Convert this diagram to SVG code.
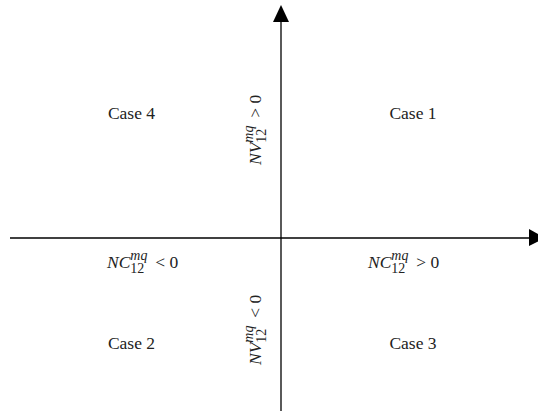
<svg xmlns="http://www.w3.org/2000/svg" width="538" height="417" viewBox="0 0 538 417">
<style>
text{font-family:"Liberation Serif","Times New Roman",serif;font-size:17.5px;fill:#222}
.lab{font-size:17.5px}
.i{font-style:italic}
.sup{font-size:15px;font-style:italic}
.sub{font-size:14px}
.ax{stroke:#000;stroke-width:1.3;fill:none}
</style>
<rect width="538" height="417" fill="#fff"/>
<g id="connectors">
<line class="ax" x1="281" y1="411" x2="281" y2="18"/>
<polygon points="281,5 273,22 289,22" fill="#000"/>
<line class="ax" x1="10" y1="238" x2="530" y2="238"/>
<polygon points="545,238 529,229 529,246" fill="#000"/>
</g>
<g id="case4"><text x="131.5" y="119" text-anchor="middle">Case 4</text></g>
<g id="case1"><text x="413" y="119" text-anchor="middle">Case 1</text></g>
<g id="case2"><text x="131.5" y="349" text-anchor="middle">Case 2</text></g>
<g id="case3"><text x="413" y="349" text-anchor="middle">Case 3</text></g>
<g id="nc-neg"><text class="lab" x="107" y="268"><tspan class="i">NC</tspan><tspan class="sup" dy="-8" textLength="17" lengthAdjust="spacingAndGlyphs">mq</tspan><tspan class="sub" dx="-17" dy="13">12</tspan><tspan dx="11" dy="-5">&lt; 0</tspan></text></g>
<g id="nc-pos"><text class="lab" x="368" y="268"><tspan class="i">NC</tspan><tspan class="sup" dy="-8" textLength="17" lengthAdjust="spacingAndGlyphs">mq</tspan><tspan class="sub" dx="-17" dy="13">12</tspan><tspan dx="11" dy="-5">&gt; 0</tspan></text></g>
<g id="nv-pos"><text class="lab" transform="translate(261,165) rotate(-90)"><tspan class="i">NV</tspan><tspan class="sup" dy="-8" textLength="17" lengthAdjust="spacingAndGlyphs">mq</tspan><tspan class="sub" dx="-17" dy="13">12</tspan><tspan dx="11" dy="-5">&gt; 0</tspan></text></g>
<g id="nv-neg"><text class="lab" transform="translate(261,365) rotate(-90)"><tspan class="i">NV</tspan><tspan class="sup" dy="-8" textLength="17" lengthAdjust="spacingAndGlyphs">mq</tspan><tspan class="sub" dx="-17" dy="13">12</tspan><tspan dx="11" dy="-5">&lt; 0</tspan></text></g>
</svg>
